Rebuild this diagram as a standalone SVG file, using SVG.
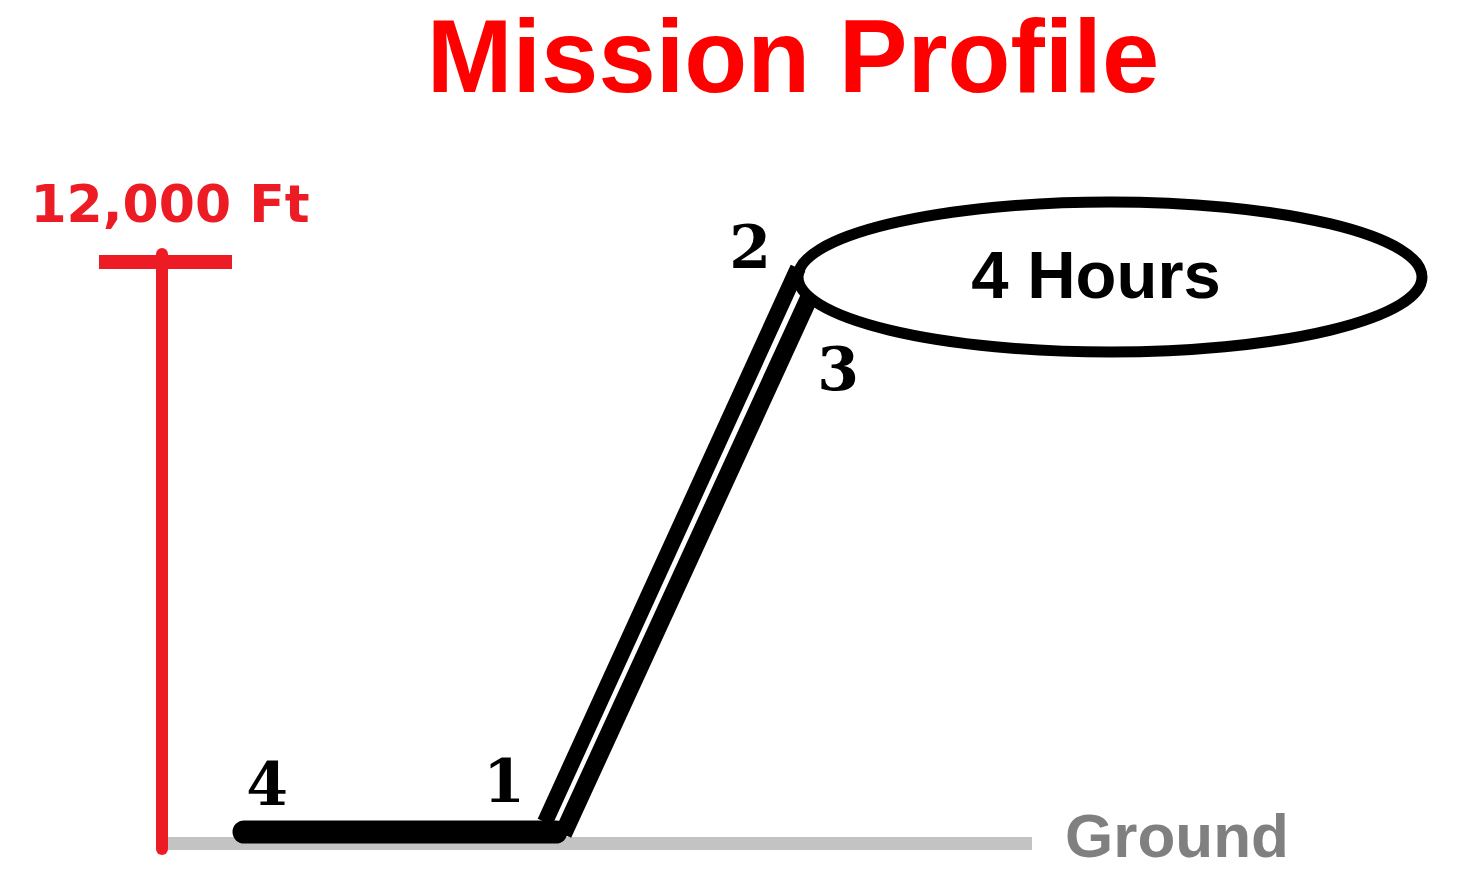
<svg xmlns="http://www.w3.org/2000/svg" width="1460" height="896" viewBox="0 0 1460 896">
<style>
.title{font-family:"Liberation Sans",Arial,sans-serif;font-weight:bold;font-size:103px;fill:#FF0000}
.alt{font-family:"DejaVu Sans",sans-serif;font-weight:bold;font-size:52px;fill:#ED1C24}
.num{font-family:"DejaVu Serif",serif;font-weight:bold;font-size:60px;fill:#000}
.hrs{font-family:"Liberation Sans",Arial,sans-serif;font-weight:bold;font-size:67px;fill:#000}
.gnd{font-family:"Liberation Sans",Arial,sans-serif;font-weight:bold;font-size:62px;fill:#808080}
.blk{stroke:#000;fill:none}
</style>
<rect width="1460" height="896" fill="#fff"/>
<text class="title" x="793" y="92" text-anchor="middle">Mission Profile</text>
<g id="altitude-axis">
<line x1="162" y1="254" x2="162" y2="849" stroke="#ED1C24" stroke-width="12" stroke-linecap="round"/>
<rect x="99" y="255" width="133" height="14" fill="#ED1C24"/>
<text class="alt" x="170" y="222" text-anchor="middle">12,000 Ft</text>
</g>
<g id="ground">
<line x1="168" y1="843.5" x2="1032" y2="843.5" stroke="#C3C3C3" stroke-width="13"/>
<text class="gnd" x="1177" y="857" text-anchor="middle">Ground</text>
</g>
<g id="connectors">
<line class="blk" x1="545" y1="822" x2="798" y2="268" stroke-width="16"/>
<line class="blk" x1="563" y1="834" x2="809" y2="298" stroke-width="18"/>
<line class="blk" x1="244" y1="832" x2="556" y2="832" stroke-width="23" stroke-linecap="round"/>
</g>
<g id="loiter">
<ellipse class="blk" cx="1110" cy="277" rx="312" ry="75" stroke-width="11"/>
<text class="hrs" x="1096" y="298" text-anchor="middle">4 Hours</text>
</g>
<g id="p1"><text class="num" x="504" y="802" text-anchor="middle">1</text></g>
<g id="p2"><text class="num" x="750" y="268" text-anchor="middle">2</text></g>
<g id="p3"><text class="num" x="838" y="390" text-anchor="middle">3</text></g>
<g id="p4"><text class="num" x="267" y="805" text-anchor="middle">4</text></g>
</svg>
